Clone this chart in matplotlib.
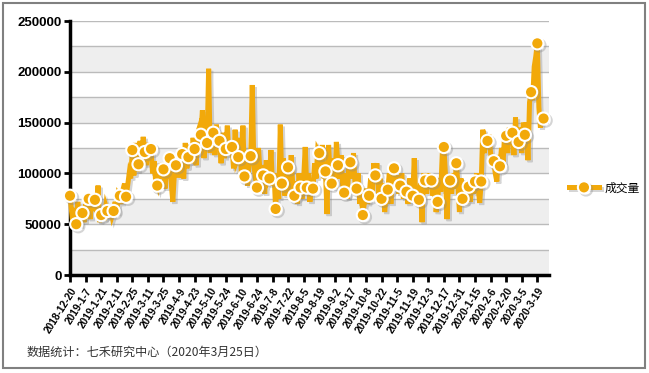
import matplotlib
matplotlib.use('Agg')
import matplotlib.pyplot as plt
import matplotlib.patheffects as pe
from matplotlib.patches import Rectangle
import numpy as np

plt.rcParams['font.family'] = ['Liberation Sans', 'Noto Sans CJK SC', 'DejaVu Sans']

# 成交量（千手），按交易日排列，每 4 个数字一组
volume_k = [
    78, 62, 47, 66,   50, 72, 48, 58,   61, 52, 70, 64,   75, 55, 80, 70,
    74, 62, 88, 52,   59, 66, 54, 68,   63, 56, 66, 58,   63, 72, 60, 80,
    78, 70, 84, 90,   77, 88, 100, 95,  123, 98, 130, 102, 109, 132, 115, 136,
    121, 108, 130, 118, 124, 100, 112, 92, 88, 105, 95, 110, 104, 85, 108, 95,
    115, 90, 72, 100, 108, 118, 96, 112, 119, 95, 130, 105, 116, 128, 110, 135,
    124, 108, 140, 145, 138, 162, 115, 150, 130, 203, 120, 145, 140, 118, 148, 125,
    132, 110, 140, 115, 124, 147, 118, 132, 126, 105, 143, 112, 116, 135, 100, 147,
    97, 120, 88, 110,  117, 187, 110, 95, 86, 125, 100, 108, 98, 80, 113, 92,
    95, 123, 88, 100,  65, 98, 75, 148,  90, 115, 78, 105, 106, 82, 118, 88,
    78, 92, 70, 100,   86, 75, 95, 126,  86, 100, 72, 90,  85, 110, 95, 123,
    120, 100, 128, 95, 102, 60, 128, 98, 90, 115, 85, 131, 108, 95, 118, 88,
    81, 100, 75, 110,  111, 95, 120, 88, 85, 100, 70, 80,  59, 72, 85, 70,
    78, 95, 82, 110,   98, 110, 80, 95,  75, 90, 62, 80,   84, 100, 70, 95,
    105, 88, 98, 80,   88, 100, 75, 90,  82, 70, 95, 78,   78, 115, 72, 85,
    74, 90, 52, 100,   93, 80, 100, 86,  93, 78, 88, 62,   72, 95, 82, 120,
    126, 100, 55, 92,  93, 80, 100, 85,  110, 90, 62, 95,  75, 88, 70, 92,
    87, 72, 95, 80,    92, 100, 85, 71,  92, 143, 120, 135, 132, 138, 120, 112,
    112, 100, 92, 118, 107, 125, 110, 138, 137, 120, 145, 130, 140, 118, 155, 125,
    131, 145, 120, 150, 138, 150, 113, 170, 180, 172, 205, 215, 228, 165, 145, 160,
    154,
]
volume = np.array(volume_k) * 1000

date_labels = ['2018-12-20', '2019-1-7', '2019-1-21', '2019-2-11', '2019-2-25', '2019-3-11',
               '2019-3-25', '2019-4-9', '2019-4-23', '2019-5-10', '2019-5-24', '2019-6-10',
               '2019-6-24', '2019-7-8', '2019-7-22', '2019-8-5', '2019-8-19', '2019-9-2',
               '2019-9-17', '2019-10-8', '2019-10-22', '2019-11-5', '2019-11-19', '2019-12-3',
               '2019-12-17', '2019-12-31', '2020-1-15', '2020-2-6', '2020-2-20', '2020-3-5',
               '2020-3-19']

orange = '#F2A90A'

fig = plt.figure(figsize=(6.49, 3.73), dpi=100)
ax = fig.add_axes([70 / 649, 1 - 275 / 373, 479 / 649, 254 / 373])

x = np.arange(len(volume))

# 背景色带和网格线
for lo in range(0, 250000, 50000):
    ax.axhspan(lo, lo + 25000, color='#EEEEEE', zorder=0, lw=0)
for y in range(25000, 250001, 25000):
    ax.axhline(y, color='#BBBBBB', lw=1, zorder=1)

shadow = [pe.SimpleLineShadow(offset=(1.5, -1.5), shadow_color='#888888', alpha=0.35), pe.Normal()]
ax.plot(x, volume, color=orange, lw=3.6, marker='o', markevery=4, markersize=8.8,
        markerfacecolor=orange, markeredgecolor='white', markeredgewidth=1.5,
        solid_joinstyle='miter', zorder=3, clip_on=False, label='成交量',
        path_effects=shadow)

ax.set_xlim(0, 307.5)
ax.set_ylim(0, 250000)
ax.set_yticks(range(0, 250001, 50000))
ax.set_yticklabels([str(v) for v in range(0, 250001, 50000)], fontsize=9.5, fontweight='bold')
ax.set_xticks(range(0, 301, 10))
ax.set_xticklabels(date_labels, rotation=58, ha='right', rotation_mode='anchor',
                   fontsize=7.3, fontweight='bold')
ax.tick_params(axis='y', length=4, width=2, pad=2)
ax.tick_params(axis='x', length=5, width=2, pad=3)

for s in ['top', 'right']:
    ax.spines[s].set_visible(False)
ax.spines['left'].set_linewidth(2.5)
ax.spines['bottom'].set_linewidth(2.5)
ax.spines['left'].set_zorder(2)

fig.legend(loc='center left', bbox_to_anchor=(558 / 649, 1 - 188 / 373), frameon=False,
           handlelength=2.6, numpoints=1, handletextpad=0.4,
           prop={'family': ['Noto Sans CJK SC'], 'size': 8.5})

fig.text(27 / 649, 1 - 352 / 373, '数据统计：七禾研究中心（2020年3月25日）',
         fontsize=8.7, color='#333333', va='center', family=['Noto Sans CJK SC'])

fig.patches.append(Rectangle((3 / 649, 5 / 373), 642 / 649, 365 / 373, transform=fig.transFigure,
                             fill=False, edgecolor='#808080', lw=1.5))

fig.savefig('out.png', dpi=100)
